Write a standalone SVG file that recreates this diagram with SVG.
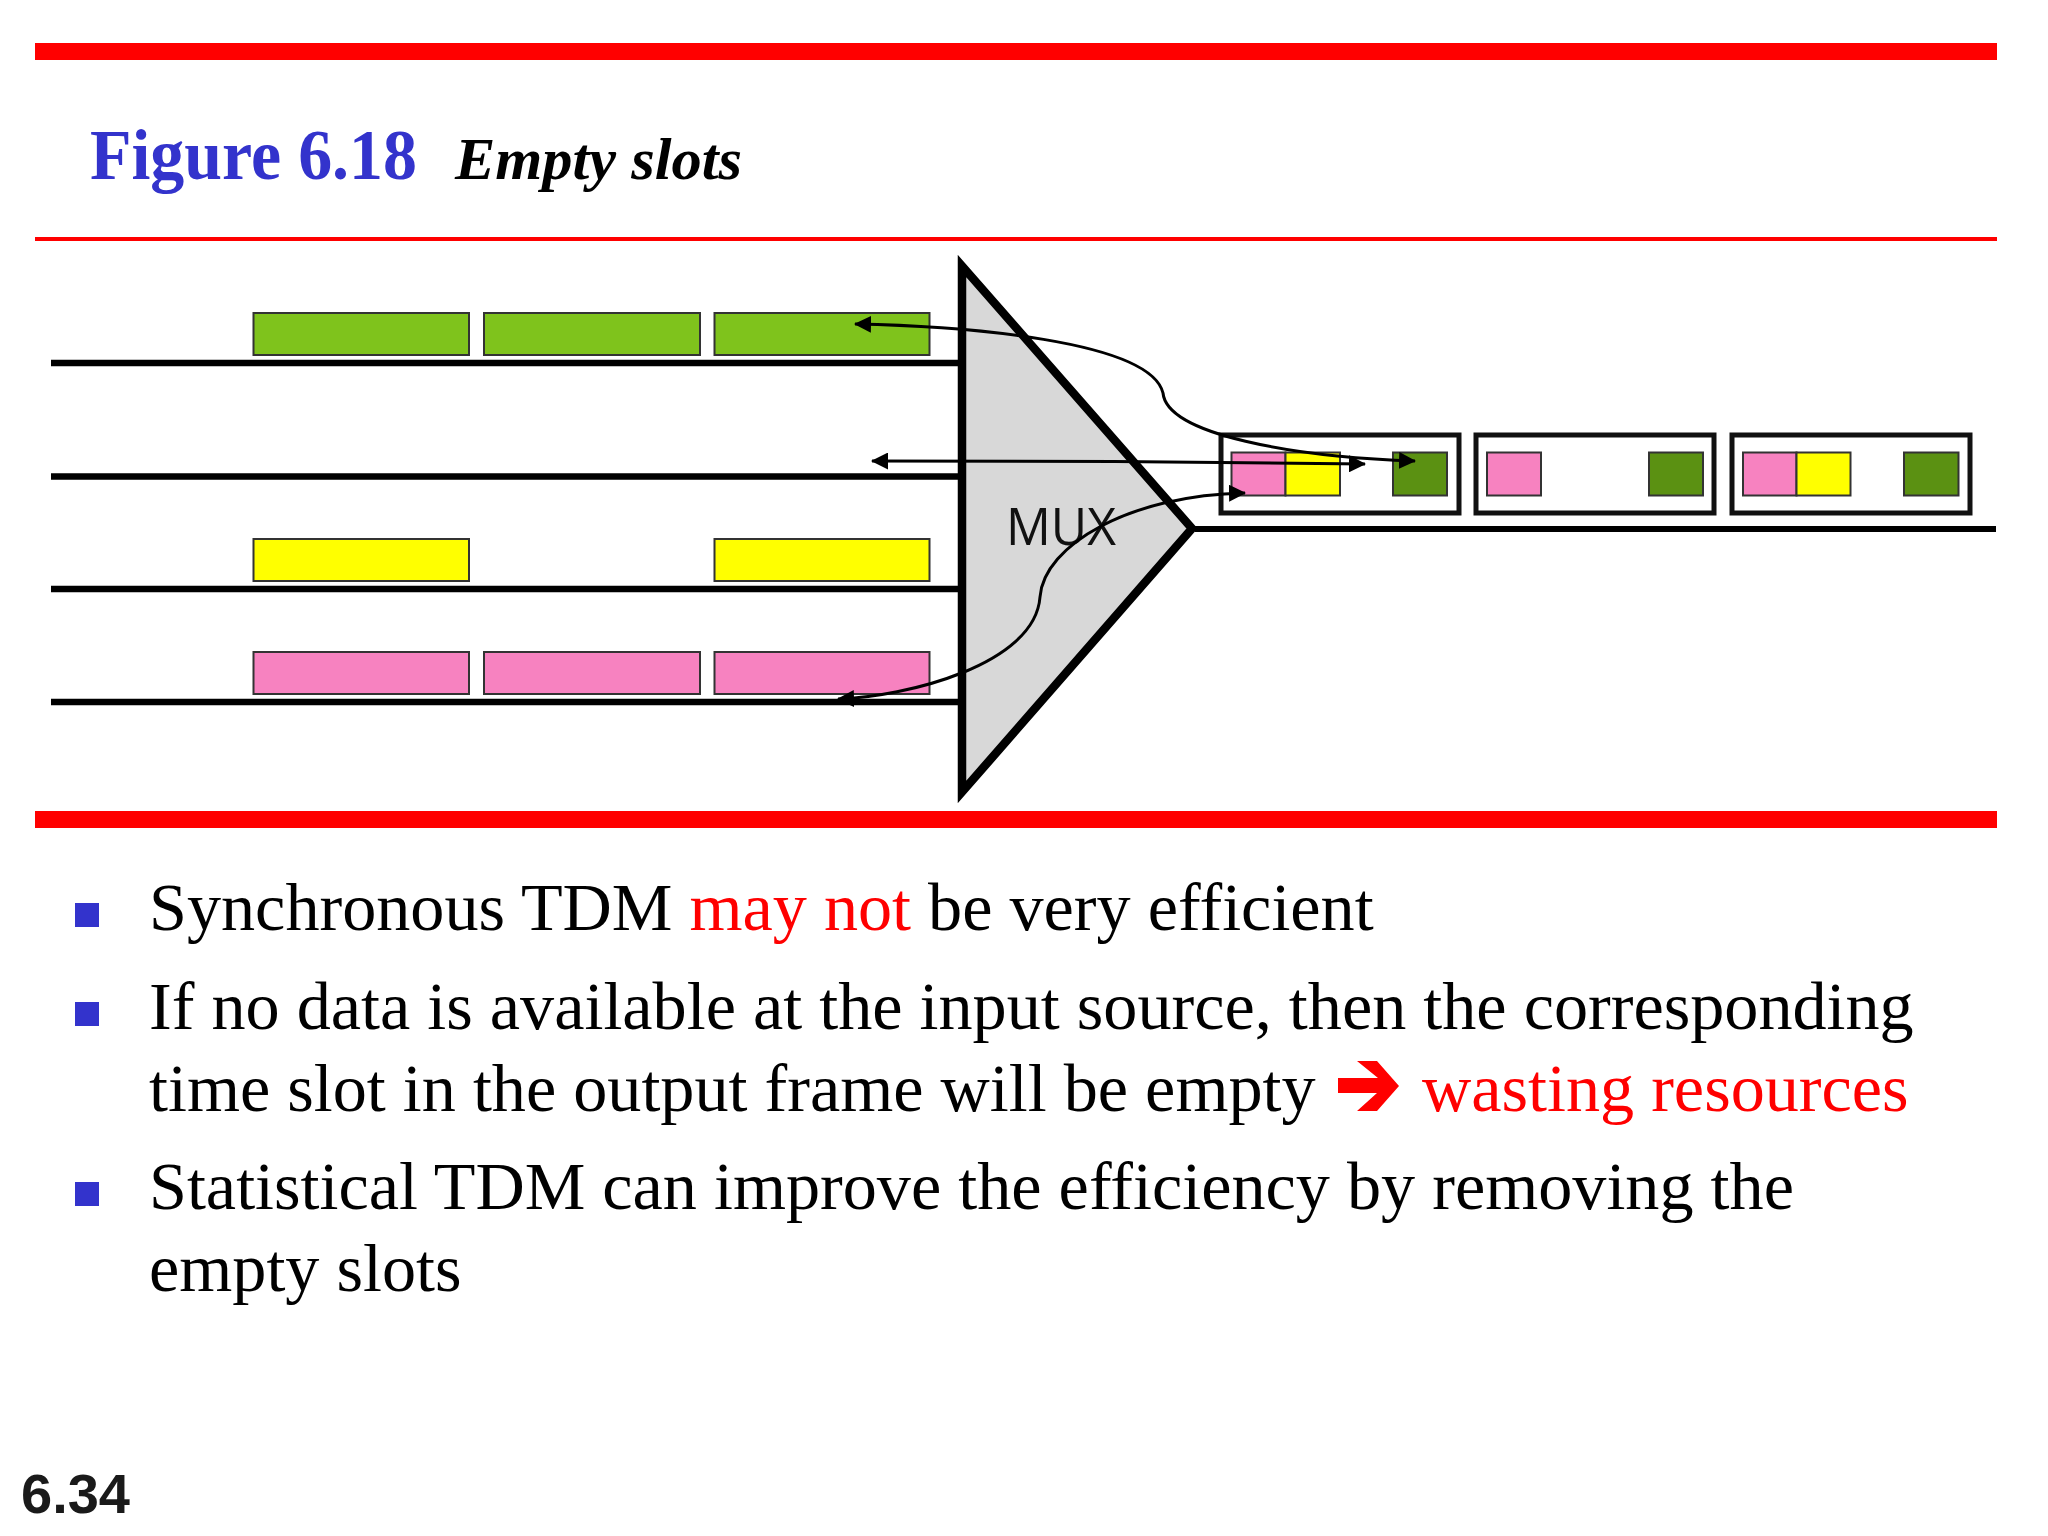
<svg xmlns="http://www.w3.org/2000/svg" width="2048" height="1536" viewBox="0 0 2048 1536">
<style>
.in{stroke:#000;stroke-width:6.5;fill:none}
.s{stroke:#333;stroke-width:2}
.g{fill:#7fc31c}.y{fill:#ffff00}.p{fill:#f782c0}.d{fill:#5b9112}
.fr{fill:none;stroke:#111;stroke-width:5}
.c{fill:none;stroke:#000;stroke-width:3}
.b{font-family:"Liberation Serif",serif;font-size:68.2px;fill:#000}
.r{fill:#ff0000}
.bu{fill:#3333cc}
</style>
<defs>
<marker id="ah" markerUnits="userSpaceOnUse" viewBox="0 0 17 17" refX="16" refY="8.5" markerWidth="17" markerHeight="17" orient="auto-start-reverse"><path d="M0 0L17 8.5L0 17Z" fill="#000"/></marker>
</defs>
<rect width="2048" height="1536" fill="#fff"/>
<g id="rules">
<rect class="r" x="35" y="43" width="1962" height="17"/>
<rect class="r" x="35" y="237" width="1962" height="4"/>
<rect class="r" x="35" y="811" width="1962" height="17"/>
</g>
<g id="title">
<text x="90" y="179" font-family="Liberation Serif,serif" font-weight="bold" font-size="72" fill="#3333cc" textLength="327" lengthAdjust="spacingAndGlyphs">Figure 6.18</text>
<text x="455" y="179" font-family="Liberation Serif,serif" font-weight="bold" font-style="italic" font-size="59" fill="#000" textLength="287" lengthAdjust="spacingAndGlyphs">Empty slots</text>
</g>
<g id="input-lines">
<path class="in" d="M51 363H960M51 476.5H960M51 589H960M51 702H960"/>
</g>
<g id="input-1">
<rect class="g s" x="253.5" y="313" width="215.5" height="42"/>
<rect class="g s" x="484" y="313" width="216" height="42"/>
<rect class="g s" x="714.5" y="313" width="215" height="42"/>
</g>
<g id="input-3">
<rect class="y s" x="253.5" y="539" width="215.5" height="42"/>
<rect class="y s" x="714.5" y="539" width="215" height="42"/>
</g>
<g id="input-4">
<rect class="p s" x="253.5" y="652" width="215.5" height="42"/>
<rect class="p s" x="484" y="652" width="216" height="42"/>
<rect class="p s" x="714.5" y="652" width="215" height="42"/>
</g>
<g id="mux">
<path d="M962 266L1192 528.5L962 792Z" fill="#d8d8d8" stroke="#000" stroke-width="8.5"/>
<text x="1006" y="545" font-family="Open Sans,sans-serif" font-size="52" fill="#111" textLength="110" lengthAdjust="spacingAndGlyphs">MUX</text>
</g>
<g id="output-line">
<path d="M1195 529H1996" stroke="#000" stroke-width="6" fill="none"/>
</g>
<g id="frame-1">
<rect class="fr" x="1221" y="435" width="238" height="78"/>
<rect class="p s" x="1231.5" y="452.5" width="54" height="43"/>
<rect class="y s" x="1285.5" y="452.5" width="54.5" height="43"/>
<rect class="d s" x="1393" y="452.5" width="54" height="43"/>
</g>
<g id="frame-2">
<rect class="fr" x="1476" y="435" width="238" height="78"/>
<rect class="p s" x="1487" y="452.5" width="54" height="43"/>
<rect class="d s" x="1649" y="452.5" width="54" height="43"/>
</g>
<g id="frame-3">
<rect class="fr" x="1732" y="435" width="238" height="78"/>
<rect class="p s" x="1743" y="452.5" width="53.5" height="43"/>
<rect class="y s" x="1796.5" y="452.5" width="54" height="43"/>
<rect class="d s" x="1904" y="452.5" width="54.5" height="43"/>
</g>
<g id="connectors">
<path class="c" marker-start="url(#ah)" marker-end="url(#ah)" d="M855 324C960 326 1150 340 1163 393C1167 435 1295 457 1415 461"/>
<path class="c" marker-start="url(#ah)" marker-end="url(#ah)" d="M872 461L1115 461.5L1365 464"/>
<path class="c" marker-start="url(#ah)" marker-end="url(#ah)" d="M838 699C905 697 1035 665 1040 597C1044 545 1130 495 1245 493"/>
</g>
<g id="body">
<rect class="bu" x="75" y="903" width="24" height="24"/>
<rect class="bu" x="75" y="1002" width="24" height="24"/>
<rect class="bu" x="75" y="1182" width="24" height="24"/>
<text class="b" x="149" y="930">Synchronous TDM <tspan fill="#ff0000">may not</tspan> be very efficient</text>
<text class="b" x="149" y="1029">If no data is available at the input source, then the corresponding</text>
<text class="b" x="149" y="1110.5">time slot in the output frame will be empty</text>
<polygon fill="#ff0000" points="1338,1078 1378,1078 1357,1061 1377,1061 1399,1086 1377,1111 1357,1111 1377,1093 1338,1093"/>
<text class="b" x="1422" y="1110.5" style="fill:#ff0000">wasting resources</text>
<text class="b" x="149" y="1208.5">Statistical TDM can improve the efficiency by removing the</text>
<text class="b" x="149" y="1291">empty slots</text>
</g>
<text id="page" x="21" y="1513" font-family="Liberation Sans,sans-serif" font-weight="bold" font-size="56" fill="#1a1a1a">6.34</text>
</svg>
